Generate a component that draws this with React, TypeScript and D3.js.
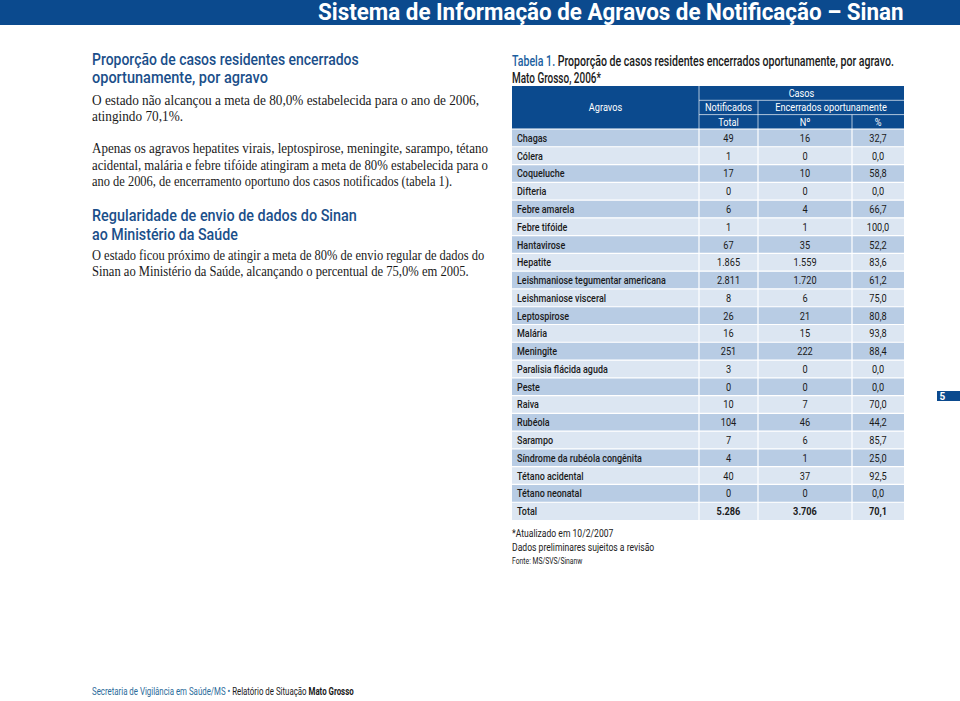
import React, { useRef, useEffect } from "react";
import { select, scaleBand, scalePoint } from "d3";

// Tabela 1 - dados
const agravos = [
  "Chagas", "Cólera", "Coqueluche", "Difteria", "Febre amarela", "Febre tifóide",
  "Hantavirose", "Hepatite", "Leishmaniose tegumentar americana", "Leishmaniose visceral",
  "Leptospirose", "Malária", "Meningite", "Paralisia flácida aguda", "Peste", "Raiva",
  "Rubéola", "Sarampo", "Síndrome da rubéola congênita", "Tétano acidental", "Tétano neonatal",
];
const notificados = ["49", "1", "17", "0", "6", "1", "67", "1.865", "2.811", "8", "26", "16", "251", "3", "0", "10", "104", "7", "4", "40", "0"];
const encerrados = ["16", "0", "10", "0", "4", "1", "35", "1.559", "1.720", "6", "21", "15", "222", "0", "0", "7", "46", "6", "1", "37", "0"];
const percentuais = ["32,7", "0,0", "58,8", "0,0", "66,7", "100,0", "52,2", "83,6", "61,2", "75,0", "80,8", "93,8", "88,4", "0,0", "0,0", "70,0", "44,2", "85,7", "25,0", "92,5", "0,0"];
const total = { label: "Total", notificados: "5.286", encerrados: "3.706", percentual: "70,1" };
const columnKeys = ["agravo", "notificados", "encerrados", "percentual"];

const blue = "#0b4a8e";
const darkRow = "#b8cce4";
const lightRow = "#dce6f2";
const sans = "Roboto, 'Open Sans', sans-serif";
const serif = "'Liberation Serif', 'DejaVu Serif', serif";

function App() {
  const svgRef = useRef(null);

  useEffect(() => {
    const svg = select(svgRef.current);
    svg.selectAll("*").remove();

    // texto simples
    const text = (x, y, str, o: any = {}) => {
      const t = svg.append("text")
        .attr("x", x).attr("y", y)
        .attr("font-family", o.family || sans)
        .attr("font-size", o.size || 11)
        .attr("font-weight", o.weight || "normal")
        .attr("fill", o.fill || "#1a1a1a")
        .attr("text-anchor", o.anchor || "start")
        .text(str);
      return t;
    };
    // texto ajustado a largura (fonte condensada)
    const fit = (t, x, y, w) => {
      const n = t.node().getComputedTextLength();
      t.attr("x", 0).attr("y", 0).attr("transform", `translate(${x},${y}) scale(${w / n},1)`);
      return t;
    };
    const squeeze = (t, x, y, s) => t.attr("x", 0).attr("y", 0).attr("transform", `translate(${x},${y}) scale(${s},1)`);

    // faixa do topo
    svg.append("rect").attr("x", 0).attr("y", 0).attr("width", 960).attr("height", 25).attr("fill", blue);
    fit(text(0, 0, "Sistema de Informação de Agravos de Notificação – Sinan", { size: 23, weight: "bold", fill: "#fff" }), 318, 20, 586);

    // coluna da esquerda
    const hBlue = "#1b4f8a";
    const h = { size: 16, weight: "500", fill: hBlue };
    fit(text(0, 0, "Proporção de casos residentes encerrados", h), 92, 65, 267);
    fit(text(0, 0, "oportunamente, por agravo", h), 92, 83, 176);
    const b = { family: serif, size: 14.2 };
    fit(text(0, 0, "O estado não alcançou a meta de 80,0% estabelecida para o ano de 2006,", b), 92, 105, 387);
    fit(text(0, 0, "atingindo 70,1%.", b), 92, 121, 91);
    fit(text(0, 0, "Apenas os agravos hepatites virais, leptospirose, meningite, sarampo, tétano", b), 92, 153, 396);
    fit(text(0, 0, "acidental, malária e febre tifóide atingiram a meta de 80% estabelecida para o", b), 92, 170, 396);
    fit(text(0, 0, "ano de 2006, de encerramento oportuno dos casos notificados (tabela 1).", b), 92, 186, 360);
    fit(text(0, 0, "Regularidade de envio de dados do Sinan", h), 92, 221, 265);
    fit(text(0, 0, "ao Ministério da Saúde", h), 92, 240, 146);
    fit(text(0, 0, "O estado ficou próximo de atingir a meta de 80% de envio regular de dados do", b), 92, 260, 392);
    fit(text(0, 0, "Sinan ao Ministério da Saúde, alcançando o percentual de 75,0% em 2005.", b), 92, 276, 377);

    // rodapé
    const foot = text(0, 0, "", { size: 10.5 });
    foot.append("tspan").attr("fill", "#2a6a9a").text("Secretaria de Vigilância em Saúde/MS ");
    foot.append("tspan").attr("fill", "#2a6a9a").text("• ");
    foot.append("tspan").text("Relatório de Situação ");
    foot.append("tspan").attr("font-weight", "bold").text("Mato Grosso");
    fit(foot, 92, 695, 262);

    // número da página
    svg.append("rect").attr("x", 937).attr("y", 391).attr("width", 23).attr("height", 10).attr("fill", blue);
    text(939.5, 400, "5", { size: 10, weight: "bold", fill: "#fff" });

    // título da tabela
    const tt = text(0, 0, "", { size: 14, weight: "500" });
    tt.append("tspan").attr("fill", "#1d5fa0").text("Tabela 1. ");
    tt.append("tspan").text("Proporção de casos residentes encerrados oportunamente, por agravo.");
    fit(tt, 512, 66, 382);
    fit(text(0, 0, "Mato Grosso, 2006*", { size: 14, weight: "500" }), 512, 83, 89);

    // escalas
    const left = 512, right = 904;
    const colEdges = [left, 699, 758, 852, right];
    const x = scalePoint().domain(columnKeys).range([0, 3]);
    const colStart = (k) => colEdges[x(k)];
    const colEnd = (k) => colEdges[x(k) + 1];
    const colMid = (k) => (colStart(k) + colEnd(k)) / 2;

    const rowLabels = [...agravos, total.label];
    const y = scaleBand().domain(rowLabels).range([129, 520]);
    const sx = 0.8;

    // cabeçalho
    const header = svg.append("g");
    header.append("rect").attr("x", left).attr("y", 86).attr("width", right - left).attr("height", 43).attr("fill", blue);
    const hl = (x1, y1, x2, y2) => header.append("line").attr("x1", x1).attr("y1", y1).attr("x2", x2).attr("y2", y2)
      .attr("stroke", "#fff").attr("stroke-opacity", 0.85).attr("stroke-width", 0.8);
    hl(699, 100.3, right, 100.3);
    hl(699, 114.6, right, 114.6);
    hl(699, 86, 699, 129);
    hl(758, 100.3, 758, 129);
    hl(852, 114.6, 852, 129);
    const hopt = { size: 11.5, fill: "#fff", anchor: "middle" };
    squeeze(text(0, 0, "Agravos", hopt), colMid("agravo"), 111, sx);
    squeeze(text(0, 0, "Casos", hopt), (699 + right) / 2, 97, sx);
    squeeze(text(0, 0, "Notificados", hopt), colMid("notificados"), 111, sx);
    squeeze(text(0, 0, "Encerrados oportunamente", hopt), (758 + right) / 2, 111, sx);
    squeeze(text(0, 0, "Total", hopt), colMid("notificados"), 125.5, sx);
    squeeze(text(0, 0, "Nº", hopt), colMid("encerrados"), 125.5, sx);
    squeeze(text(0, 0, "%", hopt), colMid("percentual"), 125.5, sx);

    // linhas de dados
    const rows = rowLabels.map((label, i) => ({
      label,
      notificados: i < agravos.length ? notificados[i] : total.notificados,
      encerrados: i < agravos.length ? encerrados[i] : total.encerrados,
      percentual: i < agravos.length ? percentuais[i] : total.percentual,
      i,
    }));

    const g = svg.append("g");
    g.selectAll(".row")
      .data(rows)
      .join("rect")
      .attr("class", "row")
      .attr("x", left)
      .attr("y", (d) => y(d.label))
      .attr("width", right - left)
      .attr("height", y.bandwidth())
      .attr("fill", (d) => (d.i % 2 === 0 ? darkRow : lightRow));

    // separadores brancos
    g.selectAll(".hsep")
      .data(rows)
      .join("line")
      .attr("class", "hsep")
      .attr("x1", left).attr("x2", right)
      .attr("y1", (d) => y(d.label)).attr("y2", (d) => y(d.label))
      .attr("stroke", "#fff").attr("stroke-width", 1.2);
    g.selectAll(".vsep")
      .data(colEdges.slice(1, 4))
      .join("line")
      .attr("class", "vsep")
      .attr("x1", (d) => d).attr("x2", (d) => d)
      .attr("y1", 129).attr("y2", y.range()[1])
      .attr("stroke", "#fff").attr("stroke-width", 1.2);

    const ty = (d) => y(d.label) + y.bandwidth() / 2 + 4;
    g.selectAll(".lbl")
      .data(rows)
      .join("text")
      .attr("class", "lbl")
      .attr("transform", (d) => `translate(${left + 5},${ty(d)}) scale(0.78,1)`)
      .attr("font-family", sans)
      .attr("font-size", 11.5)
      .attr("font-weight", "500")
      .attr("fill", "#1a1a1a")
      .text((d) => d.label);

    ["notificados", "encerrados", "percentual"].forEach((k) => {
      g.selectAll(".v-" + k)
        .data(rows)
        .join("text")
        .attr("class", "v-" + k)
        .attr("transform", (d) => `translate(${colMid(k)},${ty(d)}) scale(${sx},1)`)
        .attr("text-anchor", "middle")
        .attr("font-family", sans)
        .attr("font-size", 11.5)
        .attr("font-weight", (d) => (d.label === "Total" ? "bold" : "normal"))
        .attr("fill", "#1a1a1a")
        .text((d) => d[k]);
    });

    // notas
    squeeze(text(0, 0, "*Atualizado em 10/2/2007", { size: 11, fill: "#222" }), 512, 537, 0.78);
    squeeze(text(0, 0, "Dados preliminares sujeitos a revisão", { size: 11, fill: "#222" }), 512, 551, 0.78);
    squeeze(text(0, 0, "Fonte: MS/SVS/Sinanw", { size: 8.5, fill: "#222" }), 512, 564, 0.8);
  }, []);

  return (
    <svg ref={svgRef} width={960} height={701} style={{ position: "absolute", left: 0, top: 0, background: "#fff" }} />
  );
}

export default App;
